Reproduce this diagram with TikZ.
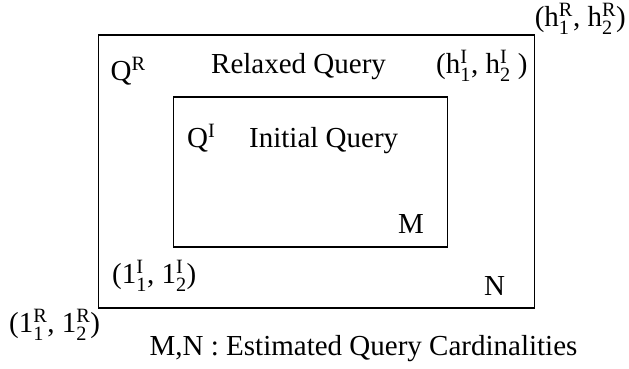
\documentclass[tikz,border=0pt]{standalone}
\usepackage{fontspec}
\usepackage{amsmath}
\setmainfont{Liberation Serif}
\newcommand\ssc[2]{$^{\text{#1}}_{\text{#2}}$}
\begin{document}
\begin{tikzpicture}[x=1pt,y=-1pt,
  box/.style={draw=black, line width=1.3pt, inner sep=0pt},
  lbl/.style={anchor=base west, inner sep=0pt, font=\fontsize{29}{34}\selectfont}]
\useasboundingbox (0,0) rectangle (629,368);
\node[box, minimum width=436pt, minimum height=273pt] (outer) at (316.5,171.5) {};
\node[box, minimum width=274pt, minimum height=150pt] (inner) at (310.5,172) {};
\node[lbl] (hR) at (534.6,26) {(h\ssc{R}{1}, h\ssc{R}{2})};
\node[lbl] (QR) at (110.5,80) {Q\textsuperscript{R}};
\node[lbl] (relaxed) at (211,73) {Relaxed Query};
\node[lbl] (hI) at (436,73) {(h\ssc{I}{1}, h\ssc{I}{2} )};
\node[lbl] (QI) at (187,147) {Q\textsuperscript{I}};
\node[lbl] (initial) at (249,147) {Initial Query};
\node[lbl] (M) at (398,233) {M};
\node[lbl] (lI) at (112,283) {(1\ssc{I}{1}, 1\ssc{I}{2})};
\node[lbl] (N) at (484,295) {N};
\node[lbl] (lR) at (9,332) {(1\ssc{R}{1}, 1\ssc{R}{2})};
\node[lbl] (caption) at (149.5,355) {M,N : Estimated Query Cardinalities};
\end{tikzpicture}
\end{document}
